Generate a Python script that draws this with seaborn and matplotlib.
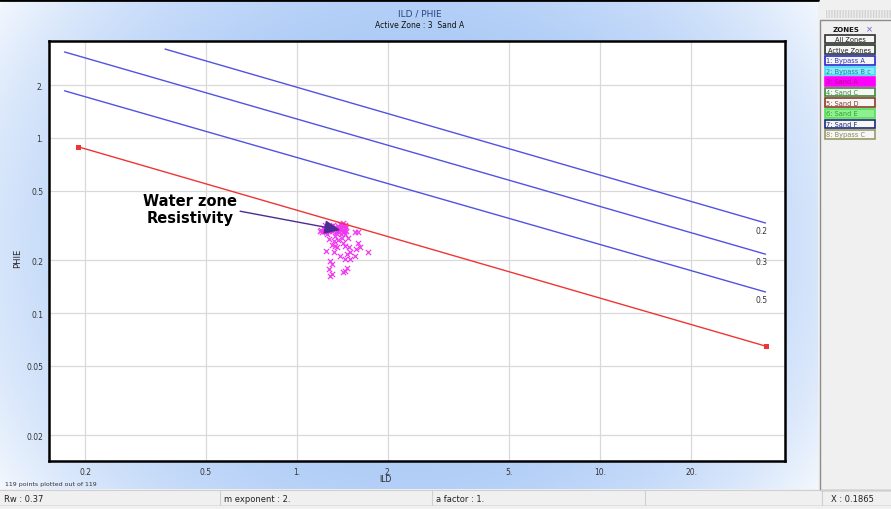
import numpy as np
import pandas as pd
import seaborn as sns
import matplotlib.pyplot as plt
from matplotlib.patches import Rectangle
from matplotlib.lines import Line2D
from matplotlib.ticker import FixedLocator, FixedFormatter, NullLocator

sns.set_theme(style='white')
plt.rcParams['font.family'] = ['DejaVu Sans']

# --- data --------------------------------------------------------------
# saturation lines (Sw), end points as ILD / PHIE
sw_labels = ['0.2', '0.3', '0.5']
sw_ild_start = [0.367, 0.171, 0.171]
sw_phie_start = [3.22, 3.10, 1.86]
sw_ild_end = [35.1, 35.1, 35.1]
sw_phie_end = [0.327, 0.217, 0.132]

# water line (Sw = 1)
water_ild = [0.19, 35.1]
water_phie = [0.89, 0.0648]

# zone 3 Sand A points
pts_ild = [1.19, 1.21, 1.22, 1.24, 1.25, 1.27, 1.28, 1.30, 1.31, 1.33,
           1.35, 1.36, 1.37, 1.39, 1.40, 1.41, 1.42, 1.43, 1.44, 1.44,
           1.45, 1.40, 1.42, 1.38, 1.34, 1.26, 1.23, 1.29, 1.32, 1.44,
           1.43, 1.41, 1.39, 1.45, 1.20, 1.27, 1.36, 1.42,
           1.55, 1.59,
           1.27, 1.32, 1.335, 1.35, 1.42, 1.44, 1.48, 1.59, 1.61, 1.57,
           1.25, 1.32, 1.39, 1.46, 1.50, 1.50, 1.44, 1.55, 1.72, 1.285,
           1.30, 1.27, 1.46, 1.44, 1.30, 1.42, 1.285,
           1.36, 1.41, 1.33, 1.47, 1.30]
pts_phie = [0.296, 0.289, 0.305, 0.318, 0.292, 0.309, 0.300, 0.295, 0.320, 0.309,
            0.295, 0.315, 0.302, 0.323, 0.309, 0.298, 0.315, 0.289, 0.319, 0.305,
            0.295, 0.283, 0.326, 0.289, 0.288, 0.283, 0.296, 0.313, 0.301, 0.283,
            0.300, 0.318, 0.305, 0.310, 0.300, 0.293, 0.306, 0.292,
            0.289, 0.289,
            0.265, 0.259, 0.243, 0.237, 0.253, 0.243, 0.237, 0.253, 0.237, 0.232,
            0.227, 0.222, 0.212, 0.217, 0.222, 0.204, 0.204, 0.212, 0.222, 0.199,
            0.191, 0.178, 0.182, 0.175, 0.167, 0.171, 0.163,
            0.260, 0.270, 0.275, 0.270, 0.245]

# annotation: arrow tip and text centre
arrow_tip = (1.39, 0.298)
arrow_text_pos = (0.443, 0.393)

x_ticks = [0.2, 0.5, 1, 2, 5, 10, 20]
x_tick_labels = ['0.2', '0.5', '1.', '2.', '5.', '10.', '20.']
y_ticks = [0.02, 0.05, 0.1, 0.2, 0.5, 1, 2]
y_tick_labels = ['0.02', '0.05', '0.1', '0.2', '0.5', '1.', '2.']

zones = ['All Zones', 'Active Zones', '1: Bypass A', '2: Bypass B c', '3: Sand A',
         '4: Sand C', '5: Sand D', '6: Sand E', '7: Sand F', '8: Bypass C']
zone_edge = ['#303030', '#283828', '#2828d0', '#48d8f0', '#ff00ff',
             '#3c8a3c', '#8a3a2a', '#58dc58', '#1a2a7a', '#9a9a68']
zone_face = ['#f6f6f6', '#f6f6f6', '#f6f6f6', '#86eaf8', '#ff00ff',
             '#f6f6f6', '#f6f6f6', '#8ef08e', '#f6f6f6', '#f6f6f6']
zone_text = ['#202020', '#202020', '#3030c0', '#2080a0', '#a8107a',
             '#3c8a3c', '#8a3a2a', '#30a030', '#1a2a7a', '#8a8a58']

status = [('Rw : 0.37', 4), ('m exponent : 2.', 224), ('a factor : 1.', 436), ('X : 0.1865', 831)]

# --- figure ---------------------------------------------------------------
W, H = 891, 510
fig = plt.figure(figsize=(W / 100, H / 100), dpi=100)
fig.patch.set_facecolor('#f0f0f0')


def box(x0, y0, w, h):
    # pixel box (top-left origin) -> figure fraction rect
    return [x0 / W, 1 - (y0 + h) / H, w / W, h / H]


# blue gradient behind the chart
bg = fig.add_axes(box(0, 2, 818, 488))
u, v = np.meshgrid(np.linspace(0, 1, 400), np.linspace(0, 1, 240))
r2 = ((u - 0.5) / 0.62) ** 2 + ((v - 0.5) / 0.95) ** 2
t = np.clip(1 - r2, 0, 1) ** 0.8
blue = np.array([0.62, 0.76, 0.96])
grad = (1 - t)[..., None] * np.ones(3) + t[..., None] * blue
bg.imshow(grad, aspect='auto', extent=[0, 1, 0, 1])
bg.axis('off')
fig.add_artist(Line2D([0, 818 / W], [1 - 1 / H] * 2, color='black', lw=2))

ax = fig.add_axes(box(49, 42, 736, 420))
ax.set_facecolor('white')
ax.set_xscale('log')
ax.set_yscale('log')

lines = pd.DataFrame({
    'ild': sw_ild_start + sw_ild_end,
    'phie': sw_phie_start + sw_phie_end,
    'sw': sw_labels + sw_labels,
})
sns.lineplot(data=lines, x='ild', y='phie', units='sw', estimator=None, sort=False,
             color='#5252e2', lw=1.0, ax=ax)
sns.lineplot(x=water_ild, y=water_phie, color='#f03434', lw=1.0, marker='s',
             markersize=3.6, markeredgewidth=0, estimator=None, sort=False, ax=ax)
sns.scatterplot(x=pts_ild, y=pts_phie, marker='x', color='#f038f0', s=14,
                linewidth=0.9, ax=ax)

for lab, xe, ye in zip(sw_labels, sw_ild_end, sw_phie_end):
    ax.annotate(lab, (xe, ye), xytext=(-3, -2), textcoords='offset points',
                ha='center', va='top', fontsize=5.5, color='#333333')

ax.annotate('Water zone\nResistivity', xy=arrow_tip, xytext=arrow_text_pos,
            ha='center', va='center', fontsize=10.5, fontweight='bold', color='black',
            linespacing=1.15,
            arrowprops=dict(arrowstyle='-|>,head_length=0.7,head_width=0.3',
                            mutation_scale=14, color='#4b2c91', lw=1.0,
                            relpos=(1.0, 0.45), shrinkA=0, shrinkB=0))

ax.set_xlim(0.152, 40.7)
ax.set_ylim(0.0143, 3.58)
ax.xaxis.set_major_locator(FixedLocator(x_ticks))
ax.xaxis.set_major_formatter(FixedFormatter(x_tick_labels))
ax.yaxis.set_major_locator(FixedLocator(y_ticks))
ax.yaxis.set_major_formatter(FixedFormatter(y_tick_labels))
ax.xaxis.set_minor_locator(NullLocator())
ax.yaxis.set_minor_locator(NullLocator())
ax.grid(True, color='#d9d9d9', lw=0.9)
ax.set_axisbelow(True)
ax.tick_params(length=0, labelsize=5.5, colors='#333333', pad=4)
ax.set_xlabel('')
ax.set_ylabel('')
for s in ax.spines.values():
    s.set_color('black')
    s.set_linewidth(1.8)

fig.text(385 / W, 1 - 480 / H, 'ILD', fontsize=5.5, color='#222222', ha='center', va='center')
fig.text(18 / W, 1 - 258 / H, 'PHIE', fontsize=6, color='#222222', ha='center', va='center',
         rotation=90)
fig.text(420 / W, 1 - 14 / H, 'ILD / PHIE', fontsize=6.5, color='#27457f', ha='center', va='center')
fig.text(420 / W, 1 - 26 / H, 'Active Zone : 3  Sand A', fontsize=5.5, color='#111111',
         ha='center', va='center')
fig.text(5 / W, 1 - 485 / H, '119 points plotted out of 119', fontsize=4.5, color='#333333',
         ha='left', va='center')

# status bar
fig.add_artist(Rectangle((0, 0), 1, 19 / H, transform=fig.transFigure,
                         facecolor='#f0f0f0', edgecolor='none'))
fig.add_artist(Line2D([0, 1], [19 / H] * 2, color='#cfcfcf', lw=0.8))
fig.add_artist(Line2D([0, 1], [4 / H] * 2, color='#dcdcdc', lw=0.6))
for xs in [220, 432, 645, 822]:
    fig.add_artist(Line2D([xs / W] * 2, [4 / H, 19 / H], color='#cfcfcf', lw=0.8))
for txt, xs in status:
    fig.text(xs / W, 1 - 500 / H, txt, fontsize=6, color='#222222', ha='left', va='center')

# zones panel
fig.add_artist(Rectangle((818 / W, 19 / H), 73 / W, 1 - 19 / H, transform=fig.transFigure,
                         facecolor='#f0f0f0', edgecolor='none'))
fig.add_artist(Rectangle((826 / W, 1 - 19 / H), 65 / W, 8 / H, transform=fig.transFigure,
                         facecolor='#ececec', edgecolor='#d4d4d4', hatch='||||||', lw=0))
fig.add_artist(Rectangle((820 / W, 19 / H), 80 / W, 1 - 40 / H, transform=fig.transFigure,
                         facecolor='#f0f0f0', edgecolor='#8c8c8c', lw=1.0))
fig.text(833 / W, 1 - 30 / H, 'ZONES', fontsize=5, fontweight='bold', color='#111111',
         ha='left', va='center')
fig.text(866 / W, 1 - 30 / H, '×', fontsize=6, color='#6060d0', ha='left', va='center')
for i, (z, ec, fc, tc) in enumerate(zip(zones, zone_edge, zone_face, zone_text)):
    yc = 40 + i * 10.6
    fig.add_artist(Rectangle((825 / W, 1 - (yc + 4.3) / H), 50 / W, 8.6 / H,
                             transform=fig.transFigure, facecolor=fc, edgecolor=ec, lw=1.2))
    if i < 2:
        fig.text(850 / W, 1 - yc / H, z, fontsize=4.8, color=tc, ha='center', va='center')
    else:
        fig.text(826.5 / W, 1 - yc / H, z, fontsize=4.8, color=tc, ha='left', va='center',
                 clip_on=False)

fig.savefig('out.png', dpi=100)
